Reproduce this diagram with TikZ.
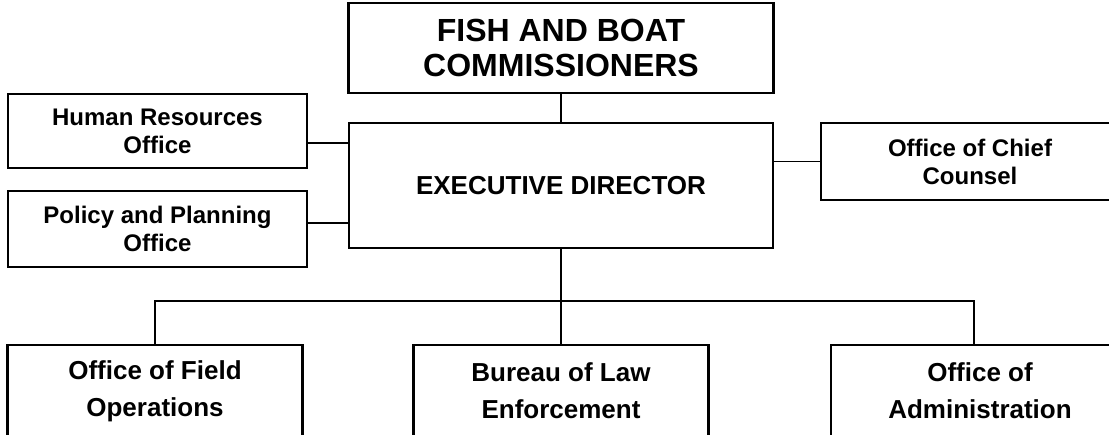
\documentclass[tikz,border=0pt]{standalone}
\usepackage{fontspec}
\setmainfont{Liberation Sans}
\usetikzlibrary{calc}

\begin{document}
\begin{tikzpicture}[
  x=1pt,y=-1pt,
  unit/.style={draw=black,line width=2.4pt,align=center,inner sep=0pt,
               fill=white},
  link/.style={draw=black,line width=1.5pt},
  bigtxt/.style={font=\bfseries\fontsize{32}{35}\selectfont},
  midtxt/.style={font=\bfseries\fontsize{26}{37}\selectfont},
  smalltxt/.style={font=\bfseries\fontsize{24}{28}\selectfont},
]
\clip (0,0) rectangle (1109,434);

% Top of the chart.
\node[unit,bigtxt,minimum width=425pt,minimum height=90pt] (board) at (561,48)
  {FISH AND BOAT\\COMMISSIONERS};
\node[unit,minimum width=424pt,minimum height=125pt,
      font=\bfseries\fontsize{26}{30}\selectfont] (exec) at (561,185.5)
  {EXECUTIVE DIRECTOR};

% Staff offices beside the director.
\node[unit,smalltxt,minimum width=299pt,minimum height=74pt] (hr) at (157.5,131)
  {Human Resources\\Office};
\node[unit,smalltxt,minimum width=299pt,minimum height=76pt] (policy) at (157.5,229)
  {Policy and Planning\\Office};
\node[unit,smalltxt,minimum width=298pt,minimum height=77pt] (counsel) at (970,161.5)
  {Office of Chief\\Counsel};

% Bureaus along the bottom.
\node[unit,midtxt,minimum width=295pt,minimum height=92pt] (fieldops) at (155,391)
  {Office of Field\\Operations};
\node[unit,midtxt,minimum width=295pt,minimum height=92pt] (lawenf) at (561,391)
  {Bureau of Law\\Enforcement};
\node[unit,midtxt,minimum width=298pt,minimum height=92pt] (admin) at (980,391)
  {Office of\\Administration};

% Connectors.
\draw[link] (board.south) -- (exec.north);
\draw[link] ($(hr.east)+(0,12)$) coordinate (hrtap) -- (hrtap -| exec.west);
\draw[link] ($(policy.east)+(0,-6)$) coordinate (pptap) -- (pptap -| exec.west);
\draw[link] (exec.east |- counsel.west) -- (counsel.west);
\draw[link] (exec.south) -- (lawenf.north);
\coordinate (bus) at ($(exec.south)+(0,52)$);
\draw[link] (fieldops.north) |- (bus) -| ([xshift=-6pt]admin.north);

\end{tikzpicture}
\end{document}
